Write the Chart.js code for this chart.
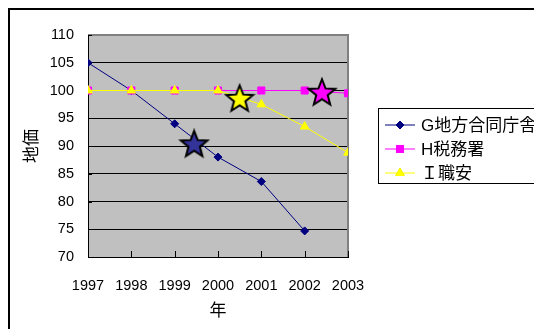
<!DOCTYPE html>
<html>
<head>
<meta charset="utf-8">
<script src="https://cdn.jsdelivr.net/npm/chart.js@4"></script>
<style>
  html, body { margin: 0; padding: 0; background: #fff; }
  canvas { display: block; }
</style>
</head>
<body>
<canvas id="landChart" width="534" height="329"></canvas>
<script>
// data
const years = [1997, 1998, 1999, 2000, 2001, 2002, 2003];
const gPrices = [105, 100, 94, 88, 83.6, 74.7, null];
const hPrices = [100, 100, 100, 100, 100, 100, 99.5];
const iPrices = [100, 100, 100, 100, 97.5, 93.5, 88.8];
const seriesNames = ["G地方合同庁舎", "H税務署", "Ｉ職安"];
const seriesColors = ["#000080", "#ff00ff", "#ffff00"];
const seriesMarkers = ["rectRot", "rect", "triangle"];
const starX = [1999.45, 2000.5, 2002.4];
const starY = [90.3, 98.5, 99.6];
const starColors = ["#333399", "#ffff00", "#ff00ff"];
const yMin = 70, yMax = 110, yStep = 5;

const FONT = "'Liberation Sans', 'Noto Sans CJK JP', sans-serif";
Chart.defaults.font.family = FONT;
Chart.defaults.font.size = 14;
Chart.defaults.color = "#000";

function toPoints(values) {
  return years.map((y, i) => ({ x: y, y: values[i] }));
}

// filled star drawn on a small canvas, used as point style
function makeStar(fill) {
  const c = document.createElement("canvas");
  c.width = 32; c.height = 32;
  const g = c.getContext("2d");
  const R = 14, r = 6;
  g.beginPath();
  for (let i = 0; i < 10; i++) {
    const a = -Math.PI / 2 + i * Math.PI / 5;
    const rad = i % 2 === 0 ? R : r;
    const px = 16 + rad * Math.cos(a), py = 16.5 + rad * Math.sin(a);
    if (i === 0) g.moveTo(px, py); else g.lineTo(px, py);
  }
  g.closePath();
  g.fillStyle = fill;
  g.fill();
  g.lineWidth = 2;
  g.strokeStyle = "#000";
  g.lineJoin = "miter";
  g.stroke();
  return c;
}

// background, borders, inner ticks, legend box
const framePlugin = {
  id: "frame",
  beforeDraw(chart) {
    const { ctx, chartArea: a } = chart;
    ctx.save();
    ctx.fillStyle = "#fff";
    ctx.fillRect(0, 0, chart.width, chart.height);
    ctx.strokeStyle = "#000";
    ctx.lineWidth = 2;
    ctx.beginPath();
    ctx.moveTo(9, chart.height);
    ctx.lineTo(9, 9);
    ctx.lineTo(chart.width, 9);
    ctx.stroke();
    ctx.fillStyle = "#c0c0c0";
    ctx.fillRect(a.left, a.top, a.right - a.left, a.bottom - a.top);
    ctx.restore();
  },
  beforeDatasetsDraw(chart) {
    const { ctx, chartArea: a, scales } = chart;
    ctx.save();
    ctx.strokeStyle = "#808080";
    ctx.lineWidth = 2;
    ctx.beginPath();
    ctx.moveTo(a.left, a.top);
    ctx.lineTo(a.right, a.top);
    ctx.lineTo(a.right, a.bottom);
    ctx.stroke();
    ctx.strokeStyle = "#000";
    ctx.lineWidth = 1;
    ctx.beginPath();
    years.forEach(y => {
      const px = Math.round(scales.x.getPixelForValue(y)) + 0.5;
      ctx.moveTo(px, a.bottom);
      ctx.lineTo(px, a.bottom - 6);
    });
    for (let v = yMin; v <= yMax; v += yStep) {
      const py = Math.round(scales.y.getPixelForValue(v)) + 0.5;
      ctx.moveTo(a.left, py);
      ctx.lineTo(a.left + 4, py);
    }
    ctx.stroke();
    ctx.restore();
  },
  afterDraw(chart) {
    const { ctx } = chart;
    ctx.save();
    ctx.strokeStyle = "#000";
    ctx.lineWidth = 1;
    ctx.strokeRect(378.5, 108.5, 200, 75);
    seriesNames.forEach((name, i) => {
      const y = 125 + i * 24;
      ctx.strokeStyle = seriesColors[i];
      ctx.lineWidth = 1;
      ctx.beginPath();
      ctx.moveTo(385, y);
      ctx.lineTo(415, y);
      ctx.stroke();
      const r = seriesMarkers[i] === "rectRot" ? 4 : 5;
      Chart.helpers.drawPoint(ctx, {
        pointStyle: seriesMarkers[i], radius: r, borderWidth: 1, rotation: 0
      }, 400, y);
      ctx.fillStyle = seriesColors[i];
      ctx.fill();
      ctx.fillStyle = "#000";
      ctx.font = "17px " + FONT;
      ctx.textBaseline = "middle";
      ctx.textAlign = "left";
      ctx.fillText(name, 421, y + 1);
    });
    ctx.restore();
  }
};

const lineSet = (i, values, order) => ({
  label: seriesNames[i],
  data: toPoints(values),
  borderColor: seriesColors[i],
  backgroundColor: seriesColors[i],
  borderWidth: 1,
  pointStyle: seriesMarkers[i],
  pointRadius: seriesMarkers[i] === "rectRot" ? 4 : 5,
  pointBorderWidth: 1,
  pointBorderColor: seriesColors[i],
  tension: 0,
  order: order
});

const starSets = starX.map((x, i) => ({
  label: "star" + i,
  data: [{ x: x, y: starY[i] }],
  showLine: false,
  pointStyle: makeStar(starColors[i]),
  pointRadius: 14,
  order: 0
}));

new Chart(document.getElementById("landChart"), {
  type: "line",
  data: {
    datasets: [
      lineSet(0, gPrices, 3),
      lineSet(1, hPrices, 2),
      lineSet(2, iPrices, 1),
      ...starSets
    ]
  },
  options: {
    responsive: false,
    animation: false,
    layout: { padding: { left: 10, top: 35, right: 186, bottom: 0 } },
    plugins: { legend: { display: false }, tooltip: { enabled: false } },
    scales: {
      x: {
        type: "linear",
        min: years[0],
        max: years[years.length - 1],
        afterFit(scale) { scale.height = 72; },
        ticks: { stepSize: 1, padding: 20, font: { size: 14.5 }, callback: v => String(v) },
        grid: { display: false, tickLength: 0 },
        border: { color: "#000", width: 1 },
        title: { display: true, text: "年", font: { size: 17 }, padding: { top: 0, bottom: 7 } }
      },
      y: {
        min: yMin,
        max: yMax,
        afterFit(scale) { scale.width = 78; },
        ticks: { stepSize: yStep, padding: 14, font: { size: 14.5 } },
        grid: {
          tickLength: 0,
          color: c => (c.tick && c.tick.value === yMax ? "rgba(0,0,0,0)" : "#000"),
          lineWidth: 1
        },
        border: { color: "#000", width: 1 },
        title: { display: true, text: "地価", font: { size: 17 }, padding: { top: 12, bottom: 0 } }
      }
    }
  },
  plugins: [framePlugin]
});
</script>
</body>
</html>
